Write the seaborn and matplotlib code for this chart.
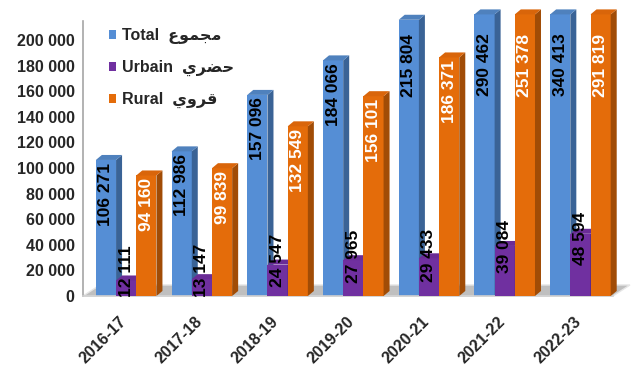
import numpy as np
import pandas as pd
import matplotlib
matplotlib.use("Agg")
import matplotlib.pyplot as plt
import seaborn as sns
from matplotlib.patches import Polygon, Patch
from matplotlib.ticker import FuncFormatter
from matplotlib.transforms import ScaledTranslation

# ---------------- data ----------------
years = ["2016-17", "2017-18", "2018-19", "2019-20", "2020-21", "2021-22", "2022-23"]
total = [106271, 112986, 157096, 184066, 215804, 290462, 340413]
urbain = [12111, 13147, 24547, 27965, 29433, 39084, 48594]
rural = [94160, 99839, 132549, 156101, 186371, 251378, 291819]
series = ["Total", "Urbain", "Rural"]
# Arabic names (مجموع, حضري, قروي) written in shaped presentation forms, visual order
arabic = ["\uFEC9\uFEEE\uFEE4\uFEA0\uFEE3",
          "\uFEF1\uFEAE\uFEC0\uFEA3",
          "\uFEF1\uFEED\uFEAE\uFED7"]
y_ticks = [0, 20000, 40000, 60000, 80000, 100000, 120000, 140000, 160000, 180000, 200000]

df = pd.DataFrame({
    "year": years * 3,
    "value": total + urbain + rural,
    "series": [s for s in series for _ in years],
})

front = ["#558ED5", "#7030A0", "#E46C0A"]
side = ["#3A6396", "#4E2170", "#A14C06"]
cap = ["#4F81BD", "#6A2C96", "#D9650A"]
label_col = ["black", "black", "white"]

sns.set_style("white")
plt.rcParams["font.family"] = ["Liberation Sans", "DejaVu Sans"]

fig = plt.figure(figsize=(6.36, 3.74), dpi=100)
ax = fig.add_axes([0.1305, 0.2086, 0.8333, 0.7529])

sns.barplot(data=df, x="year", y="value", hue="series", hue_order=series,
            palette=front, saturation=1, width=0.8, legend=False, ax=ax,
            linewidth=0)

YMAX = 220000
shift = 0.07
ax.set_xlim(-0.5 - shift, 6.5 - shift)
ax.set_ylim(0, YMAX)

# pixel-to-data helpers
px_x = 7.0 / 530.0          # data units per px on x
px_y = YMAX / (296 - 14.4)  # data units per px on y
dx = 6 * px_x
dy = 5 * px_y

# floor
xl, xr = -0.5 - shift, 6.5 - shift
fdx, fdy = 17 * px_x, 11 * px_y
ax.add_patch(Polygon([(xl, 0), (xr, 0), (xr + fdx, fdy), (xl + fdx, fdy)],
                     closed=True, fc="#BFBFBF", ec="#E6E6E6", lw=1.0,
                     clip_on=False, zorder=1))

for i, cont in enumerate(ax.containers):
    for rect in cont.patches:
        rect.set_zorder(2 + i)
        x0 = rect.get_x()
        w = rect.get_width()
        h = rect.get_height()
        top = min(h, YMAX)
        x1 = x0 + w
        ax.add_patch(Polygon([(x1, 0), (x1, top), (x1 + dx, top + dy), (x1 + dx, dy)],
                             closed=True, fc=side[i], ec="none",
                             clip_on=False, zorder=2.5 + i))
        ax.add_patch(Polygon([(x0, top), (x1, top), (x1 + dx, top + dy), (x0 + dx, top + dy)],
                             closed=True, fc=cap[i], ec="none",
                             clip_on=False, zorder=2.5 + i))
        txt = f"{h:,.0f}".replace(",", " ")
        cx = x0 + w / 2
        if i == 1:
            ax.text(cx, 0.7 * h + 11000, txt, rotation=90, ha="center", va="center",
                    fontsize=12.5, fontweight="bold", color=label_col[i], zorder=10)
        else:
            ax.text(cx, min(h - 2000, 205000), txt, rotation=90, ha="center", va="top",
                    fontsize=12.5, fontweight="bold", color=label_col[i], zorder=10)

# axes styling
for s in ["top", "right"]:
    ax.spines[s].set_visible(False)
ax.spines["left"].set_color("#A6A6A6")
ax.spines["left"].set_linewidth(1.2)
ax.spines["left"].set_bounds(0, 215000)
ax.spines["bottom"].set_color("#D0D0D0")
ax.spines["bottom"].set_linewidth(1.2)

ax.set_yticks(y_ticks)
ax.yaxis.set_major_formatter(FuncFormatter(lambda v, p: f"{v:,.0f}".replace(",", " ")))
ax.tick_params(axis="y", length=3, color="#A6A6A6", width=1, pad=3, labelsize=11.5)
for t in ax.get_yticklabels():
    t.set_fontweight("bold")

ax.set_xticks(range(len(years)))
ax.set_xticks(np.arange(len(years) + 1) - 0.5 - shift, minor=True)
ax.tick_params(axis="x", which="major", length=0, pad=13, labelsize=11.5)
ax.tick_params(axis="x", which="minor", length=5, color="#A6A6A6", width=1)
ax.set_xticklabels(years, rotation=45, ha="right", va="top",
                   rotation_mode="anchor", fontweight="bold")
off = ScaledTranslation(-5 / 72, 0, fig.dpi_scale_trans)
for t in ax.get_xticklabels():
    t.set_transform(t.get_transform() + off)
ax.set_xlabel("")
ax.set_ylabel("")

handles = [Patch(fc=c, ec="none") for c in front]
labels = [f"{s}  {a}" for s, a in zip(series, arabic)]
ax.legend(handles, labels, loc="upper left",
          bbox_to_anchor=(109 / 636, 1 - 28 / 374), bbox_transform=fig.transFigure,
          frameon=False, handlelength=0.45, handleheight=0.45, handletextpad=0.35,
          labelspacing=1.0, borderpad=0, borderaxespad=0,
          prop=dict(weight="bold", size=11.5, family=["Liberation Sans", "DejaVu Sans"]))

fig.savefig("out.png", dpi=100)
